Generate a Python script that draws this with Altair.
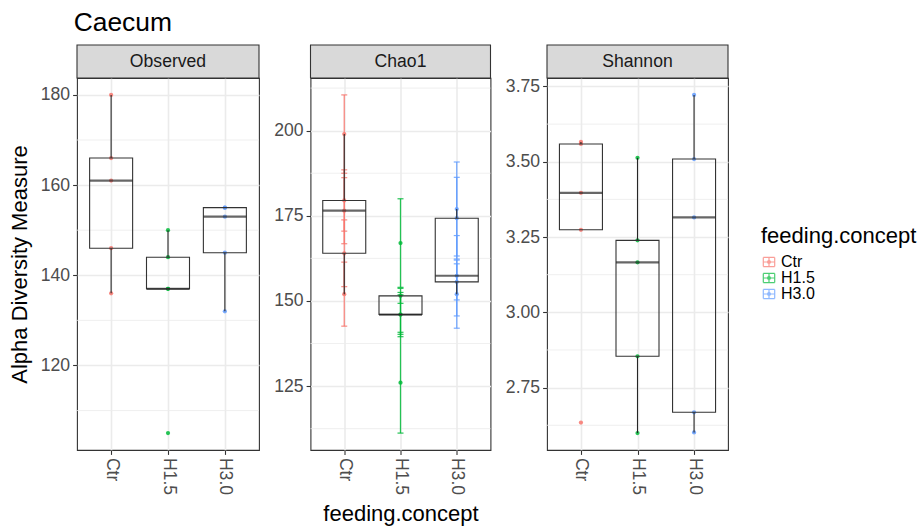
import altair as alt
import pandas as pd

FONT = "Liberation Sans"

groups = ["Ctr", "H1.5", "H3.0"]
group_colors = ["#F8766D", "#00BA38", "#619CFF"]
measures = ["Observed", "Chao1", "Shannon"]

sample_group = ["Ctr"] * 5 + ["H1.5"] * 5 + ["H3.0"] * 5

observed = [180, 166, 161, 146, 136,
            150, 144, 137, 137, 105,
            155, 155, 153, 145, 132]
chao1 = [199, 179.5, 176.5, 164, 152,
         167, 151.5, 146, 146, 126,
         177, 174.3, 157.4, 155.6, 152]
chao1_se = [11.5, 9.0, 9.7, 9.8, 9.4,
            13.0, 2.2, 6.5, 5.8, 14.8,
            13.8, 12.0, 11.8, 5.3, 10.0]
shannon = [3.566, 3.559, 3.397, 3.274, 2.634,
           3.513, 3.239, 3.166, 2.854, 2.599,
           3.722, 3.509, 3.315, 2.668, 2.601]

observed_ticks = [120, 140, 160, 180]
observed_minor = [110, 130, 150, 170]
chao1_ticks = [125, 150, 175, 200]
chao1_minor = [112.5, 137.5, 162.5, 187.5, 212.5]
shannon_ticks = [2.75, 3.0, 3.25, 3.5, 3.75]
shannon_minor = [2.625, 2.875, 3.125, 3.375, 3.625]

PANEL_H = 372
STRIP_H = 33

legend_symbol = ("M-1,-0.8H1M-1,0.8H1M-1,-0.8V0.8M1,-0.8V0.8M-1,0H1M0,-0.8V0.8"
                 "M-0.25,0A0.25,0.25,0,1,0,0.25,0A0.25,0.25,0,1,0,-0.25,0Z")


def color_enc():
    return alt.Color(
        "group:N",
        scale=alt.Scale(domain=groups, range=group_colors),
        title="feeding.concept",
        legend=alt.Legend(orient="none", legendX=684, legendY=148,
                          symbolType=legend_symbol, symbolSize=130,
                          symbolStrokeWidth=1.2, symbolOpacity=0.7),
    )


def panel(name, values, se, ticks, minor, fmt, width, ytitle, xtitle):
    df = pd.DataFrame({"group": sample_group, "value": values})
    if se is not None:
        df["lo"] = [v - s for v, s in zip(values, se)]
        df["hi"] = [v + s for v, s in zip(values, se)]
        lo, hi = df["lo"].min(), df["hi"].max()
    else:
        lo, hi = df["value"].min(), df["value"].max()
    pad = 0.05 * (hi - lo)
    yscale = alt.Scale(domain=[lo - pad, hi + pad], nice=False, zero=False)
    yaxis = alt.Axis(values=ticks, format=fmt, title=ytitle, grid=True)
    xaxis = alt.Axis(title=xtitle, labelAngle=90, grid=True)
    xscale = alt.Scale(type="point", domain=groups, padding=0.6)
    X = alt.X("group:N", scale=xscale, axis=xaxis)

    def Y(field):
        return alt.Y(field, scale=yscale, axis=yaxis)

    base = alt.Chart(df)
    layers = []

    mdf = pd.DataFrame({"v": minor})
    layers.append(alt.Chart(mdf).mark_rule(color="#EBEBEB", strokeWidth=0.8).encode(y=Y("v:Q")))

    if se is not None:
        layers.append(base.mark_rule(strokeWidth=1.3, opacity=0.85).encode(
            x=X, y=Y("lo:Q"), y2="hi:Q", color=color_enc()))
        layers.append(base.mark_tick(size=6, thickness=1.2, opacity=0.85).encode(
            x=X, y=Y("lo:Q"), color=color_enc()))
        layers.append(base.mark_tick(size=6, thickness=1.2, opacity=0.85).encode(
            x=X, y=Y("hi:Q"), color=color_enc()))

    layers.append(base.mark_circle(size=18, opacity=0.85).encode(
        x=X, y=Y("value:Q"), color=color_enc()))

    layers.append(base.mark_boxplot(
        extent=1.5, size=43, outliers=False, ticks=False,
        box={"fill": "transparent", "stroke": "#333333", "strokeWidth": 1.1},
        median={"color": "#262626", "thickness": 2.2},
        rule={"color": "#262626", "strokeWidth": 1.1},
    ).encode(x=X, y=Y("value:Q")))

    sdf = pd.DataFrame({"label": [name]})
    layers.append(alt.Chart(sdf).mark_rect(fill="#D9D9D9", stroke="#333333", strokeWidth=1.1).encode(
        x=alt.value(0), x2=alt.value(width), y=alt.value(-STRIP_H), y2=alt.value(0)))
    layers.append(alt.Chart(sdf).mark_text(font=FONT, fontSize=17.6, color="#1A1A1A",
                                           baseline="middle", align="center").encode(
        x=alt.value(width / 2), y=alt.value(-STRIP_H / 2), text="label:N"))

    return alt.layer(*layers).properties(width=width, height=PANEL_H)


p1 = panel(measures[0], observed, None, observed_ticks, observed_minor, "d", 182,
           "Alpha Diversity Measure", None)
p2 = panel(measures[1], chao1, chao1_se, chao1_ticks, chao1_minor, "d", 180,
           None, "feeding.concept")
p3 = panel(measures[2], shannon, None, shannon_ticks, shannon_minor, ".2f", 181,
           None, None)

chart = alt.hconcat(p1, p2, p3, spacing=11.5).properties(
    title=alt.TitleParams("Caecum", anchor="start", font=FONT, fontSize=26.4,
                          fontWeight="normal", color="black", offset=8, dx=66),
    padding={"left": 7, "right": 2, "top": 9, "bottom": 5},
).configure_view(
    stroke="#333333", strokeWidth=1.1
).configure_axis(
    labelFont=FONT, labelFontSize=17.6, labelColor="#4D4D4D",
    titleFont=FONT, titleFontSize=22, titleColor="black", titleFontWeight="normal",
    tickColor="#333333", tickSize=4.4, tickWidth=1.1, domain=False,
    gridColor="#EBEBEB", gridWidth=1.6, labelPadding=3, titlePadding=9,
).configure_legend(
    titleFont=FONT, titleFontSize=22, titleFontWeight="normal", titleColor="black",
    labelFont=FONT, labelFontSize=16, labelColor="black",
    rowPadding=0, titlePadding=6,
)

chart.save("out.html", embed_options={"renderer": "svg", "actions": False})
